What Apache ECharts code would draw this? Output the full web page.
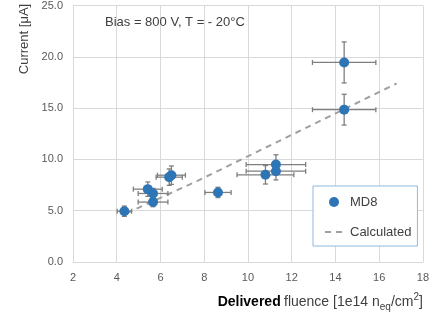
<!DOCTYPE html>
<html><head><meta charset="utf-8">
<script src="https://cdn.jsdelivr.net/npm/echarts@6/dist/echarts.min.js"></script>
<style>html,body{margin:0;padding:0;background:#fff}#c{width:432px;height:315px}</style>
</head><body><div id="c"></div>
<script>
// Data
var fluence   = [4.35, 5.42, 5.66, 5.66, 6.40, 6.50, 8.63, 10.80, 11.28, 11.28, 14.40, 14.40];
var current   = [4.95, 7.10, 6.68, 5.84, 8.27, 8.46, 6.78, 8.50, 9.50, 8.85, 19.45, 14.85];
var fluenceErr= [0.33, 0.66, 0.68, 0.68, 0.60, 0.64, 0.60, 1.30, 1.36, 1.36, 1.45, 1.45];
var currentErr= [0.50, 0.70, 0.50, 0.45, 0.80, 0.90, 0.50, 0.90, 0.95, 0.85, 2.00, 1.50];
var calcX = [4.45, 7.67, 11.30, 16.80];
var calcY = [4.75, 7.88, 11.66, 17.40];
var xTicks = {min: 2, max: 18, interval: 2};
var yTicks = {min: 0, max: 25, interval: 5};

var chart = echarts.init(document.getElementById('c'), null, {renderer: 'canvas'});
var FONT = 'Liberation Sans';
var pts = fluence.map(function (x, i) { return [x, current[i]]; });
var errData = fluence.map(function (x, i) { return [x, current[i], fluenceErr[i], currentErr[i]]; });
var calc = calcX.map(function (x, i) { return [x, calcY[i]]; });

chart.setOption({
  animation: false,
  textStyle: {fontFamily: FONT},
  grid: {left: 73, right: 6, top: 4, bottom: 53, containLabel: false},
  xAxis: {
    type: 'value', min: xTicks.min, max: xTicks.max, interval: xTicks.interval,
    axisLine: {show: true, lineStyle: {color: '#d9d9d9', width: 1}},
    axisTick: {show: false},
    splitLine: {show: true, lineStyle: {color: '#d9d9d9', width: 1}},
    axisLabel: {color: '#595959', fontSize: 11, margin: 10, fontFamily: FONT},
    name: '{b|Delivered} {n|fluence [1e14 n}{sub|eq}{n|/cm}{sup|2}{n|]}',
    nameLocation: 'end', nameGap: 0,
    nameTextStyle: {
      align: 'right', verticalAlign: 'top', padding: [30, 0, 0, 0],
      rich: {
        b: {fontWeight: 'bold', fontSize: 14, color: '#000', fontFamily: FONT, lineHeight: 20},
        n: {fontSize: 14, color: '#404040', fontFamily: FONT, lineHeight: 20},
        sub: {fontSize: 10, color: '#404040', fontFamily: FONT, verticalAlign: 'bottom', lineHeight: 20},
        sup: {fontSize: 10, color: '#404040', fontFamily: FONT, verticalAlign: 'top', lineHeight: 20}
      }
    }
  },
  yAxis: {
    type: 'value', min: yTicks.min, max: yTicks.max, interval: yTicks.interval,
    axisLine: {show: true, lineStyle: {color: '#d9d9d9', width: 1}},
    axisTick: {show: false},
    splitLine: {show: true, lineStyle: {color: '#d9d9d9', width: 1}},
    axisLabel: {color: '#595959', fontSize: 11, margin: 10, fontFamily: FONT,
      formatter: function (v) { return v.toFixed(1); }}
  },
  legend: {
    orient: 'vertical', left: 313, top: 186,
    padding: [9, 6, 7, 11],
    itemGap: 16, itemWidth: 18, itemHeight: 10,
    borderColor: '#8fb8e0', borderWidth: 1, backgroundColor: '#fff',
    textStyle: {color: '#404040', fontSize: 13, fontFamily: FONT, lineHeight: 14, padding: [0, 0, 0, 2]},
    data: [
      {name: 'MD8', icon: 'circle'},
      {name: 'Calculated', itemStyle: {opacity: 0}}
    ]
  },
  graphic: [
    {type: 'text', left: 105, top: 16, z: 10,
      style: {text: 'Bias = 800 V, T = - 20°C', fill: '#404040', fontSize: 13, fontFamily: FONT}},
    {type: 'text', x: 24, y: 39, rotation: Math.PI / 2, z: 10,
      style: {text: 'Current [μA]', fill: '#404040', fontSize: 13, fontFamily: FONT,
        align: 'center', verticalAlign: 'middle'}}
  ],
  series: [
    {
      name: 'Calculated', type: 'line', data: calc, symbol: 'none', z: 2,
      lineStyle: {color: '#a0a0a0', width: 2, type: [6, 5]},
      itemStyle: {color: '#a0a0a0'}
    },
    {
      name: 'err', type: 'custom', data: errData, z: 3, silent: true,
      renderItem: function (params, api) {
        var x = api.value(0), y = api.value(1), ex = api.value(2), ey = api.value(3);
        var l = api.coord([x - ex, y]), r = api.coord([x + ex, y]);
        var t = api.coord([x, y + ey]), b = api.coord([x, y - ey]);
        var c = 2.5;
        var st = {stroke: '#7f7f7f', lineWidth: 1.3, fill: null};
        return {type: 'group', children: [
          {type: 'line', shape: {x1: l[0], y1: l[1], x2: r[0], y2: r[1]}, style: st},
          {type: 'line', shape: {x1: l[0], y1: l[1] - c, x2: l[0], y2: l[1] + c}, style: st},
          {type: 'line', shape: {x1: r[0], y1: r[1] - c, x2: r[0], y2: r[1] + c}, style: st},
          {type: 'line', shape: {x1: t[0], y1: t[1], x2: b[0], y2: b[1]}, style: st},
          {type: 'line', shape: {x1: t[0] - c, y1: t[1], x2: t[0] + c, y2: t[1]}, style: st},
          {type: 'line', shape: {x1: b[0] - c, y1: b[1], x2: b[0] + c, y2: b[1]}, style: st}
        ]};
      }
    },
    {
      name: 'MD8', type: 'scatter', data: pts, symbol: 'circle', symbolSize: 10, z: 4,
      itemStyle: {color: '#2E75B6', opacity: 1}
    }
  ]
});
</script></body></html>
